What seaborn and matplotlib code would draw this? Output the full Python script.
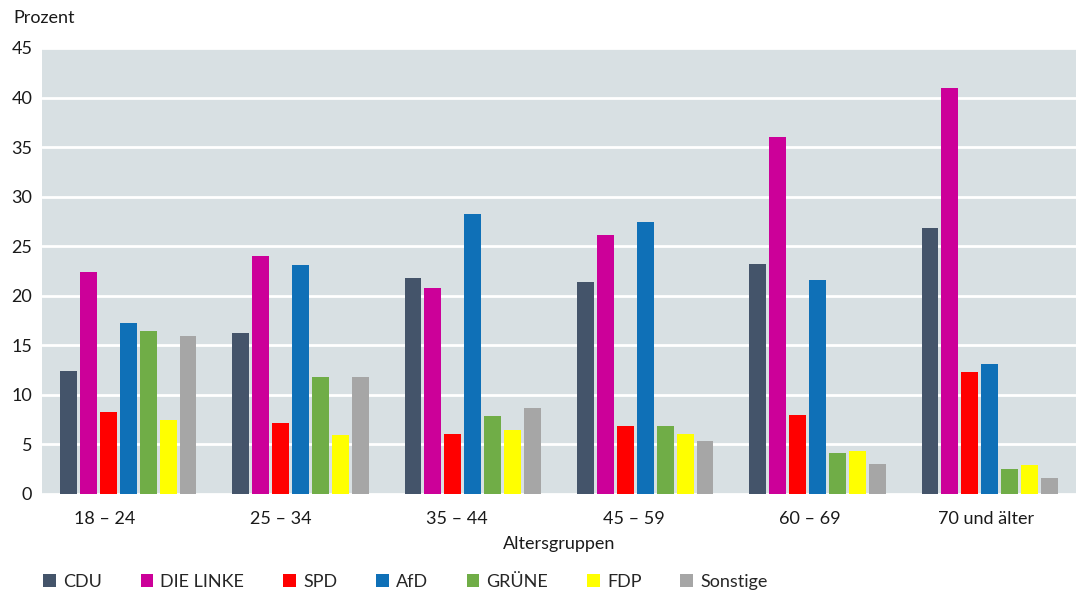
import matplotlib
matplotlib.use("Agg")
import matplotlib.pyplot as plt
from matplotlib.patches import Patch
import pandas as pd
import seaborn as sns

altersgruppen = ["18 – 24", "25 – 34", "35 – 44", "45 – 59", "60 – 69", "70 und älter"]
parteien = ["CDU", "DIE LINKE", "SPD", "AfD", "GRÜNE", "FDP", "Sonstige"]
farben = ["#44546a", "#cc0099", "#ff0000", "#0f70b7", "#70ad47", "#ffff00", "#a6a6a6"]

cdu = [12.4, 16.2, 21.8, 21.4, 23.2, 26.8]
linke = [22.4, 24.0, 20.8, 26.1, 36.0, 41.0]
spd = [8.3, 7.2, 6.1, 6.9, 8.0, 12.3]
afd = [17.3, 23.1, 28.3, 27.4, 21.6, 13.1]
gruene = [16.4, 11.8, 7.9, 6.9, 4.1, 2.5]
fdp = [7.5, 6.0, 6.5, 6.1, 4.3, 2.9]
sonstige = [15.9, 11.8, 8.7, 5.3, 3.0, 1.6]

werte = [cdu, linke, spd, afd, gruene, fdp, sonstige]
rows = []
for partei, serie in zip(parteien, werte):
    for gruppe, v in zip(altersgruppen, serie):
        rows.append({"Altersgruppe": gruppe, "Partei": partei, "Prozent": v})
df = pd.DataFrame(rows)

sns.set_theme(style="white")
plt.rcParams["font.family"] = ["Lato", "DejaVu Sans"]
fs = 13

fig = plt.figure(figsize=(10.81, 5.97), dpi=100)
ax = fig.add_axes([42 / 1081, 1 - 494 / 597, (1076 - 42) / 1081, (494 - 48) / 597])
ax.set_facecolor("#d8e0e3")

sns.barplot(data=df, x="Altersgruppe", y="Prozent", hue="Partei",
            order=altersgruppen, hue_order=parteien, palette=farben, saturation=1,
            width=0.81, gap=0.15, linewidth=0, legend=False, ax=ax)

ax.set_ylim(0, 45)
ax.set_yticks(range(0, 46, 5))
ax.set_xlim(-0.5, len(altersgruppen) - 0.5)
# Beschriftungen sitzen im Original leicht links von der Gruppenmitte
ax.set_xticks([i * 1.022 - 0.134 for i in range(len(altersgruppen))], altersgruppen)
ax.yaxis.grid(True, color="white", linewidth=2)
ax.set_axisbelow(True)
for s in ax.spines.values():
    s.set_visible(False)
ax.tick_params(axis="both", length=0, labelsize=fs, colors="#1a1a1a")
ax.tick_params(axis="y", pad=7)
ax.tick_params(axis="x", pad=12)
ax.set_ylabel("")
ax.set_xlabel("Altersgruppen", fontsize=fs, color="#1a1a1a", labelpad=7)

fig.text(13 / 1081, 1 - 18 / 597, "Prozent", fontsize=fs, color="#1a1a1a",
         ha="left", va="center")

handles = [Patch(facecolor=c, edgecolor="none") for c in farben]
fig.legend(handles, parteien, loc="center left", bbox_to_anchor=(43 / 1081, 1 - 582 / 597),
           ncol=7, frameon=False, fontsize=fs, handlelength=0.7, handleheight=0.7,
           handletextpad=0.4, columnspacing=2.15, borderaxespad=0, borderpad=0)

fig.savefig("out.png", dpi=100)
